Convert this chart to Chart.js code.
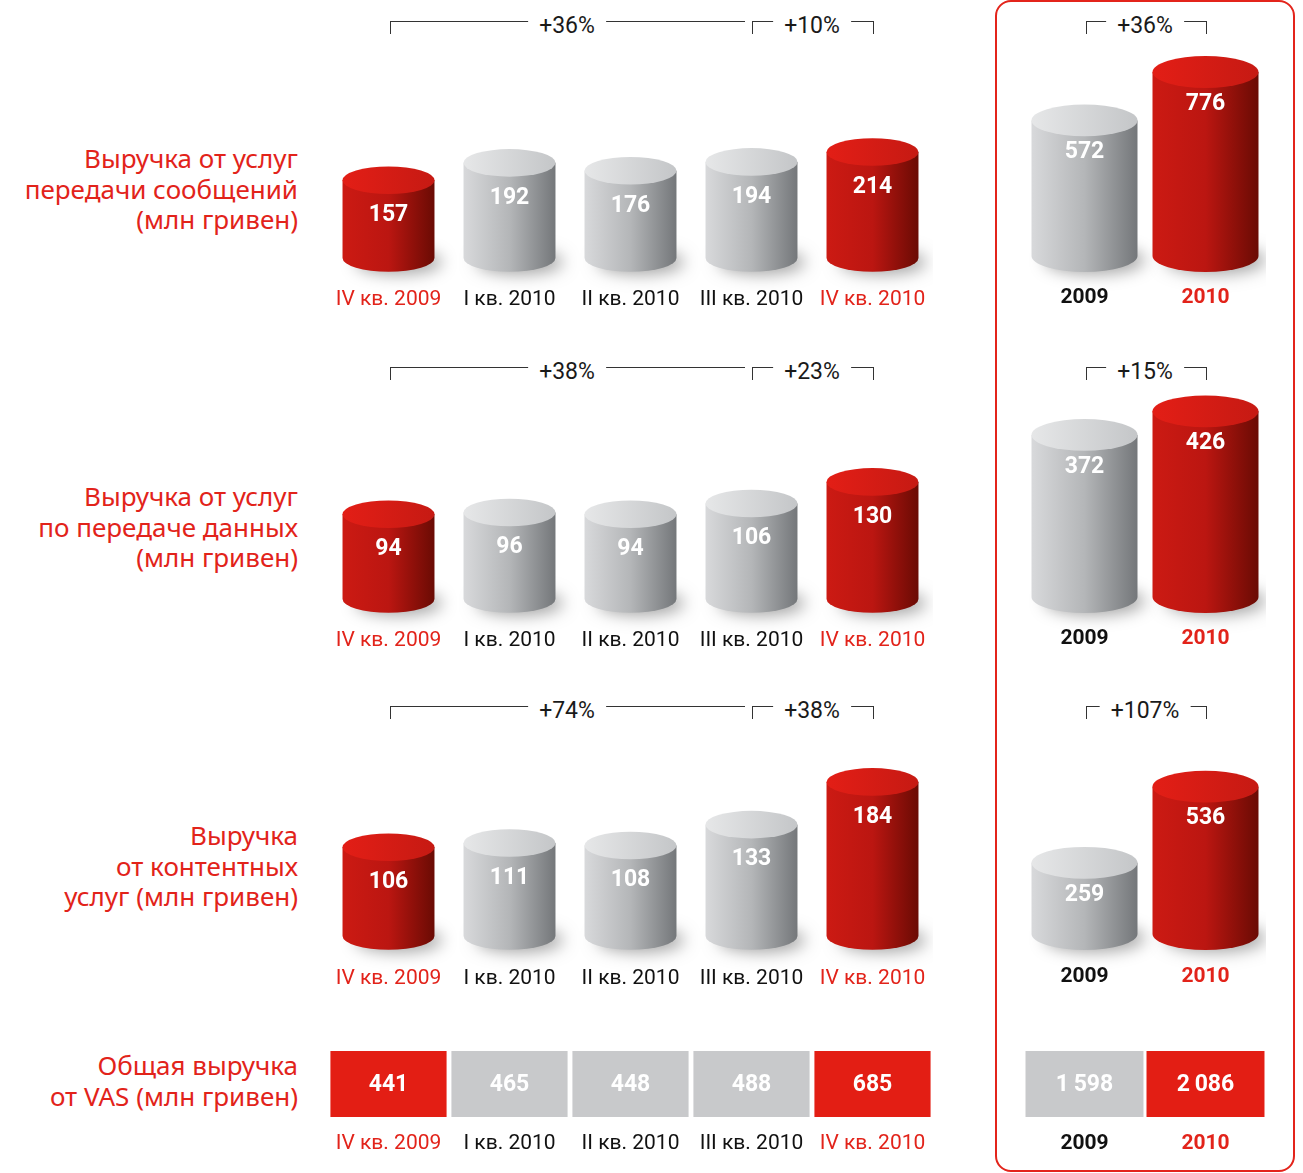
<!DOCTYPE html>
<html>
<head>
<meta charset="utf-8">
<script src="https://cdn.jsdelivr.net/npm/chart.js@4.4.0/dist/chart.umd.min.js"></script>
<style>
  body { margin: 0; background: #fff; }
  #page { position: relative; width: 1303px; height: 1173px; overflow: hidden; background: #fff; }
  canvas { position: absolute; }
  .title { position: absolute; right: 1005px; text-align: right; color: #e2231a; font-family: 'Noto Sans', sans-serif; font-size: 26px; line-height: 30.5px; white-space: nowrap; }
  .frame { position: absolute; left: 995px; top: 0px; width: 300px; height: 1172px; border: 2px solid #e3241b; border-radius: 16px; box-sizing: border-box; }
  .br { position: absolute; height: 13px; border-top: 1.5px solid #333; box-sizing: border-box; }
  .pct { position: absolute; background: #fff; padding: 0 11px; transform: translateX(-50%); font-family: Roboto, sans-serif; font-size: 23px; line-height: 24px; color: #1a1a1a; white-space: nowrap; }
</style>
</head>
<body>
<div id="page">
  <div class="frame"></div>
  <canvas id="q1" width="605" height="272" style="left:328px;top:40px"></canvas>
  <canvas id="y1" width="242" height="270" style="left:1024px;top:40px"></canvas>
  <canvas id="q2" width="605" height="263" style="left:328px;top:390px"></canvas>
  <canvas id="y2" width="242" height="261" style="left:1024px;top:390px"></canvas>
  <canvas id="q3" width="605" height="261" style="left:328px;top:730px"></canvas>
  <canvas id="y3" width="242" height="259" style="left:1024px;top:730px"></canvas>
  <canvas id="q4" width="605" height="105" style="left:328px;top:1051px"></canvas>
  <canvas id="y4" width="242" height="105" style="left:1024px;top:1051px"></canvas>
</div>
<script>
// категории
const quarters = ['IV кв. 2009', 'I кв. 2010', 'II кв. 2010', 'III кв. 2010', 'IV кв. 2010'];
const years = ['2009', '2010'];
const quarterHot = [true, false, false, false, true];
const yearHot = [false, true];

// выручка, млн гривен
const messagingQ = [157, 192, 176, 194, 214];
const messagingY = [572, 776];
const dataQ = [94, 96, 94, 106, 130];
const dataY = [372, 426];
const contentQ = [106, 111, 108, 133, 184];
const contentY = [259, 536];
const totalQ = [441, 465, 448, 488, 685];
const totalY = [1598, 2086];

// рост: IV кв. 2009 -> IV кв. 2010, III кв. -> IV кв. 2010, 2009 -> 2010
const growthMessaging = ['+36%', '+10%', '+36%'];
const growthData = ['+38%', '+23%', '+15%'];
const growthContent = ['+74%', '+38%', '+107%'];

const titleMessaging = ['Выручка от услуг', 'передачи сообщений', '(млн гривен)'];
const titleData = ['Выручка от услуг', 'по передаче данных', '(млн гривен)'];
const titleContent = ['Выручка', 'от контентных', 'услуг (млн гривен)'];
const titleTotal = ['Общая выручка', 'от VAS (млн гривен)'];

const RED = '#e2231a';
const LABEL_FONT = "Roboto, sans-serif";

function fmt(v) {
    return String(v).replace(/\B(?=(\d{3})+(?!\d))/g, '\u2009');
}

// рисуем цилиндры поверх невидимых столбиков
const cylinderPlugin = {
    id: 'cylinders',
    afterDatasetsDraw(chart) {
        const ctx = chart.ctx;
        const ds = chart.data.datasets[0];
        chart.getDatasetMeta(0).data.forEach((bar, i) => {
            const p = bar.getProps(['x', 'y', 'base', 'width'], true);
            const rx = p.width / 2, ry = p.width * 0.15;
            const left = p.x - rx, right = p.x + rx;
            const hot = ds.hot[i];

            // тень
            ctx.save();
            ctx.shadowColor = 'rgba(0,0,0,0.35)';
            ctx.shadowBlur = 16;
            ctx.shadowOffsetX = 10;
            ctx.shadowOffsetY = 4;
            ctx.fillStyle = '#fff';
            ctx.beginPath();
            ctx.ellipse(p.x, p.base, rx * 0.95, ry * 0.9, 0, 0, Math.PI * 2);
            ctx.fill();
            ctx.restore();

            const body = ctx.createLinearGradient(left, 0, right, 0);
            if (hot) {
                body.addColorStop(0, '#cc1a13');
                body.addColorStop(0.5, '#bb1611');
                body.addColorStop(1, '#6a0b04');
            } else {
                body.addColorStop(0, '#d8d9db');
                body.addColorStop(0.5, '#b4b6b8');
                body.addColorStop(1, '#74777a');
            }
            ctx.fillStyle = body;
            ctx.beginPath();
            ctx.moveTo(left, p.y);
            ctx.lineTo(left, p.base);
            ctx.ellipse(p.x, p.base, rx, ry, 0, Math.PI, 0, true);
            ctx.lineTo(right, p.y);
            ctx.closePath();
            ctx.fill();

            const cap = ctx.createLinearGradient(left, 0, right, 0);
            if (hot) {
                cap.addColorStop(0, '#e31e16');
                cap.addColorStop(1, '#c61a13');
            } else {
                cap.addColorStop(0, '#e6e7e8');
                cap.addColorStop(1, '#c4c6c8');
            }
            ctx.fillStyle = cap;
            ctx.beginPath();
            ctx.ellipse(p.x, p.y, rx, ry, 0, 0, Math.PI * 2);
            ctx.fill();

            ctx.fillStyle = '#fff';
            ctx.font = 'bold 23px ' + LABEL_FONT;
            ctx.textAlign = 'center';
            ctx.textBaseline = 'middle';
            ctx.fillText(fmt(ds.data[i]), p.x, p.y + ds.textDrop);
        });
    }
};

// подписи в ячейках итоговой строки
const cellPlugin = {
    id: 'cells',
    afterDatasetsDraw(chart) {
        const ctx = chart.ctx;
        const ds = chart.data.datasets[0];
        chart.getDatasetMeta(0).data.forEach((bar, i) => {
            const p = bar.getProps(['x', 'y', 'base'], true);
            ctx.fillStyle = '#fff';
            ctx.font = 'bold 23px ' + LABEL_FONT;
            ctx.textAlign = 'center';
            ctx.textBaseline = 'middle';
            ctx.fillText(fmt(ds.values[i]), p.x, (p.y + p.base) / 2 + 1);
        });
    }
};

function xAxis(hot, bold, pad) {
    return {
        grid: { display: false, drawTicks: false },
        border: { display: false },
        // высота оси фиксирована, без боковых отступов под подписи
        afterFit: s => {
            s.height = pad + 25;
            s.paddingLeft = 0;
            s.paddingRight = 0;
        },
        ticks: {
            padding: pad,
            autoSkip: false,
            maxRotation: 0,
            color: c => hot[c.index] ? RED : '#111',
            font: { family: LABEL_FONT, size: 21, weight: bold ? 'bold' : 'normal', lineHeight: 1.2 }
        }
    };
}

function cylinderChart(id, labels, values, hot, yMax, bold, barPct, pad, textDrop) {
    return new Chart(document.getElementById(id), {
        type: 'bar',
        data: {
            labels: labels,
            datasets: [{
                data: values,
                hot: hot,
                textDrop: textDrop,
                backgroundColor: 'rgba(0,0,0,0)',
                barPercentage: barPct,
                categoryPercentage: 1
            }]
        },
        options: {
            responsive: false,
            animation: false,
            devicePixelRatio: 1,
            layout: { padding: 0 },
            plugins: { legend: { display: false }, tooltip: { enabled: false } },
            scales: {
                x: xAxis(hot, bold, pad),
                y: { display: false, min: 0, max: yMax }
            }
        },
        plugins: [cylinderPlugin]
    });
}

function cellChart(id, labels, values, hot, bold, barPct) {
    return new Chart(document.getElementById(id), {
        type: 'bar',
        data: {
            labels: labels,
            datasets: [{
                data: values.map(() => [0, 1]),
                values: values,
                backgroundColor: hot.map(h => h ? '#e31e14' : '#c8c9cb'),
                barPercentage: barPct,
                categoryPercentage: 1
            }]
        },
        options: {
            responsive: false,
            animation: false,
            devicePixelRatio: 1,
            layout: { padding: 0 },
            plugins: { legend: { display: false }, tooltip: { enabled: false } },
            scales: {
                x: xAxis(hot, bold, 14),
                y: { display: false, min: 0, max: 1 }
            }
        },
        plugins: [cellPlugin]
    });
}

cylinderChart('q1', quarters, messagingQ, quarterHot, 440, false, 0.76, 29, 35);
cylinderChart('y1', years, messagingY, yearHot, 911, true, 0.876, 29, 32);
cylinderChart('q2', quarters, dataQ, quarterHot, 232, false, 0.76, 29, 35);
cylinderChart('y2', years, dataY, yearHot, 475, true, 0.876, 29, 32);
cylinderChart('q3', quarters, contentQ, quarterHot, 246, false, 0.76, 30, 35);
cylinderChart('y3', years, contentY, yearHot, 742, true, 0.876, 30, 32);
cellChart('q4', quarters, totalQ, quarterHot, false, 0.96);
cellChart('y4', years, totalY, yearHot, true, 0.975);

// заголовки строк и скобки с приростом
const page = document.getElementById('page');

function addTitle(lines, firstCenter) {
    const d = document.createElement('div');
    d.className = 'title';
    d.style.top = (firstCenter - 17) + 'px';
    d.innerHTML = lines.join('<br>');
    page.appendChild(d);
}

function addBracket(y, x1, x2, leftTick, rightTick, text, textX) {
    const b = document.createElement('div');
    b.className = 'br';
    b.style.left = x1 + 'px';
    b.style.top = y + 'px';
    b.style.width = (x2 - x1) + 'px';
    if (leftTick) b.style.borderLeft = '1.5px solid #333';
    if (rightTick) b.style.borderRight = '1.5px solid #333';
    page.appendChild(b);
    const t = document.createElement('div');
    t.className = 'pct';
    t.style.left = textX + 'px';
    t.style.top = (y - 7) + 'px';
    t.textContent = text;
    page.appendChild(t);
}

function addBrackets(y, growth) {
    addBracket(y, 390, 745, true, false, growth[0], 567);
    addBracket(y, 752, 874, true, true, growth[1], 812);
    addBracket(y, 1086, 1207, true, true, growth[2], 1145);
}

addTitle(titleMessaging, 160);
addTitle(titleData, 498);
addTitle(titleContent, 837);
addTitle(titleTotal, 1067);
addBrackets(21, growthMessaging);
addBrackets(367, growthData);
addBrackets(706, growthContent);
</script>
</body>
</html>
